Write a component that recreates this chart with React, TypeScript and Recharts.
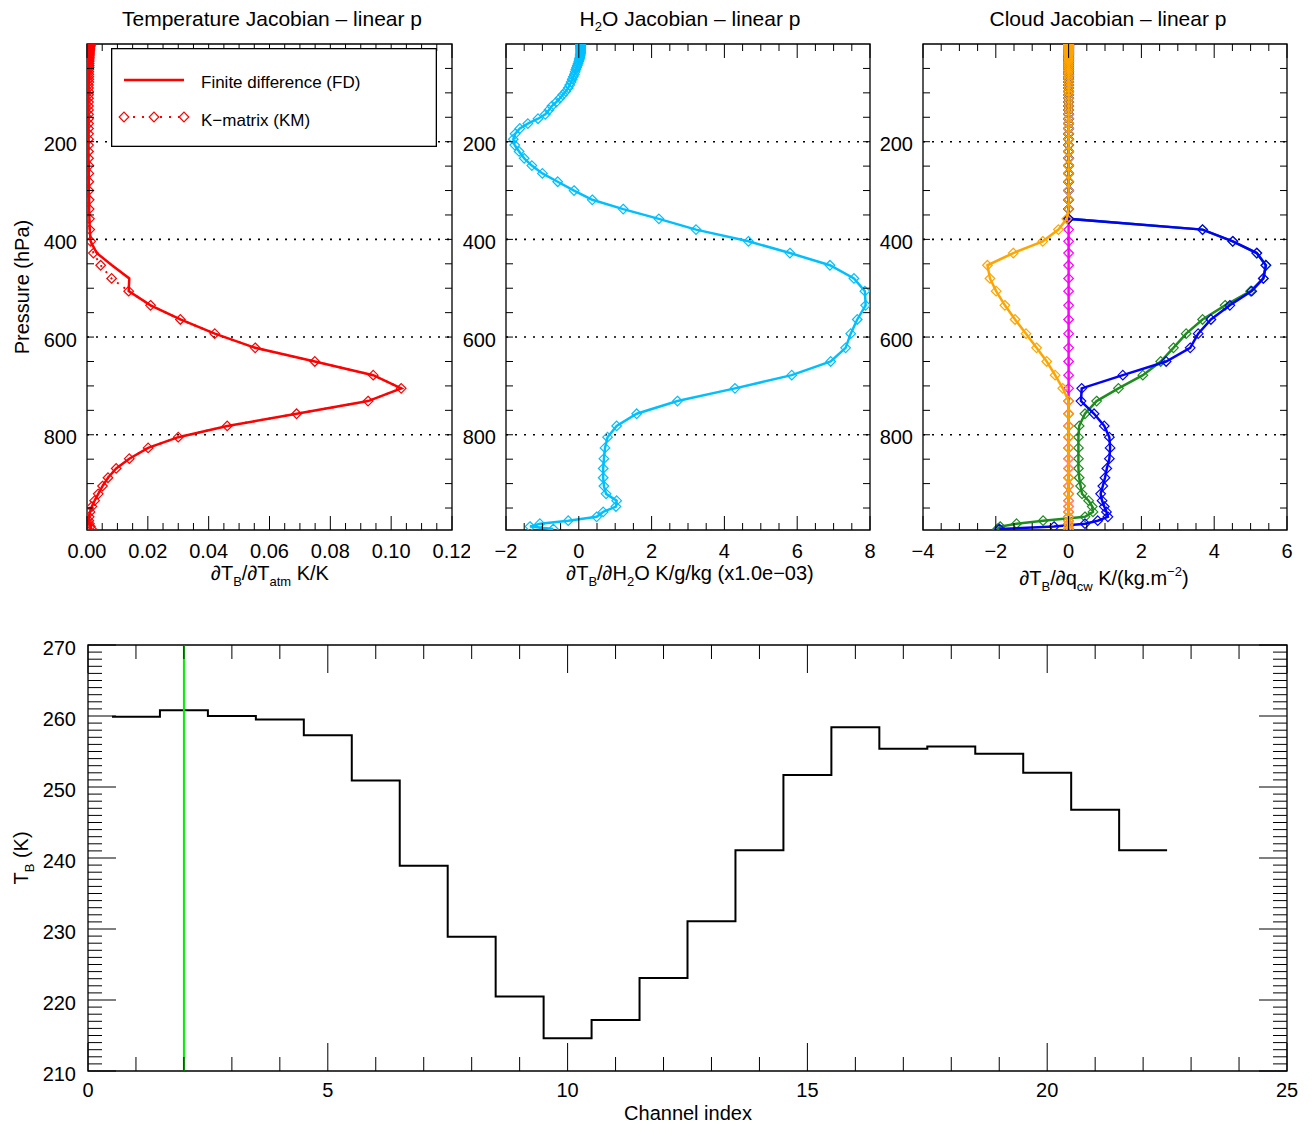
import React from 'react';
import {
  ScatterChart, Scatter, XAxis, YAxis, ReferenceLine, ReferenceArea, LineChart, Line,
} from 'recharts';

const FONT = '"Liberation Sans", Arial, Helvetica, sans-serif';

// ---------------- DATA ----------------
// Pressure levels (hPa), top of atmosphere to surface
const PRESSURE = [
  0.1, 0.3, 0.7, 1.3, 2, 3, 4, 5, 6.5, 8,
  9.5, 11, 13, 15, 17, 19, 21, 24, 27, 30,
  33, 36, 40, 44, 48, 52, 57, 62, 67, 72,
  78, 84, 90, 97, 104, 111, 119, 127, 135, 144,
  153, 163, 173, 184, 195, 207, 220, 234, 249, 265,
  282, 300, 319, 338, 358, 380, 404, 428, 453, 480,
  506, 535, 564, 593, 622, 650, 678, 705, 731, 757,
  782, 805, 827, 849, 869, 888, 905, 921, 935, 947,
  958, 968, 976, 982, 988, 993,
];

// Temperature Jacobian, K-matrix (K/K)
const T_KM = [
  0.0012, 0.0012, 0.0011, 0.0011, 0.0010, 0.0010, 0.0010, 0.0010, 0.0009, 0.0009,
  0.0009, 0.0009, 0.0009, 0.0008, 0.0008, 0.0008, 0.0008, 0.0008, 0.0008, 0.0007,
  0.0007, 0.0007, 0.0007, 0.0007, 0.0007, 0.0006, 0.0006, 0.0006, 0.0006, 0.0006,
  0.0006, 0.0005, 0.0005, 0.0005, 0.0005, 0.0005, 0.0005, 0.0005, 0.0005, 0.0005,
  0.0005, 0.0005, 0.0005, 0.0005, 0.0005, 0.0005, 0.0005, 0.0005, 0.0006, 0.0006,
  0.0006, 0.0006, 0.0007, 0.0007, 0.0008, 0.0009, 0.0012, 0.0021, 0.0045, 0.0081,
  0.0137, 0.0209, 0.0307, 0.0420, 0.0553, 0.0749, 0.0941, 0.1033, 0.0924, 0.0689,
  0.0461, 0.0300, 0.0201, 0.0139, 0.0096, 0.0069, 0.0051, 0.0037, 0.0025, 0.0016,
  0.0010, 0.0007, 0.0006, 0.0008, 0.0011, 0.0015,
];

// Temperature Jacobian, finite difference (K/K)
const T_FD = [
  0.0012, 0.0012, 0.0011, 0.0011, 0.0010, 0.0010, 0.0010, 0.0010, 0.0009, 0.0009,
  0.0009, 0.0009, 0.0009, 0.0008, 0.0008, 0.0008, 0.0008, 0.0008, 0.0008, 0.0007,
  0.0007, 0.0007, 0.0007, 0.0007, 0.0007, 0.0006, 0.0006, 0.0006, 0.0006, 0.0006,
  0.0006, 0.0005, 0.0005, 0.0005, 0.0005, 0.0005, 0.0005, 0.0005, 0.0005, 0.0005,
  0.0005, 0.0005, 0.0005, 0.0005, 0.0005, 0.0005, 0.0005, 0.0005, 0.0006, 0.0006,
  0.0006, 0.0006, 0.0007, 0.0007, 0.0008, 0.0009, 0.0012, 0.0032, 0.0082, 0.0139,
  0.0137, 0.0209, 0.0307, 0.0420, 0.0553, 0.0749, 0.0941, 0.1033, 0.0924, 0.0689,
  0.0461, 0.0300, 0.0201, 0.0139, 0.0096, 0.0069, 0.0051, 0.0037, 0.0025, 0.0016,
  0.0010, 0.0007, 0.0006, 0.0008, 0.0011, 0.0015,
];

// H2O Jacobian (K/g/kg, x1.0e-03)
const H2O = [
  0.05, 0.05, 0.05, 0.05, 0.05, 0.05, 0.05, 0.05, 0.05, 0.05,
  0.05, 0.05, 0.05, 0.05, 0.05, 0.05, 0.04, 0.04, 0.03, 0.02,
  0.01, 0.00, -0.02, -0.04, -0.06, -0.08, -0.10, -0.12, -0.15, -0.18,
  -0.21, -0.25, -0.29, -0.36, -0.44, -0.52, -0.62, -0.74, -0.82, -0.92,
  -1.12, -1.40, -1.62, -1.75, -1.80, -1.76, -1.64, -1.50, -1.29, -1.00,
  -0.58, -0.13, 0.37, 1.22, 2.20, 3.22, 4.66, 5.80, 6.90, 7.56,
  7.86, 7.88, 7.65, 7.47, 7.33, 6.92, 5.85, 4.29, 2.71, 1.59,
  1.04, 0.79, 0.72, 0.69, 0.67, 0.67, 0.69, 0.75, 1.04, 1.02,
  0.67, 0.49, -0.29, -1.07, -1.34, -0.70,
];

// Cloud Jacobians (K/(kg.m^-2))
const CLD_MAGENTA = [
  0, 0, 0, 0, 0, 0, 0, 0, 0, 0,
  0, 0, 0, 0, 0, 0, 0, 0, 0, 0,
  0, 0, 0, 0, 0, 0, 0, 0, 0, 0,
  0, 0, 0, 0, 0, 0, 0, 0, 0, 0,
  0, 0, 0, 0, 0, 0, 0, 0, 0, 0,
  0, 0, 0, 0, 0, 0, 0, 0, 0, 0,
  0, 0, 0, 0, 0, 0, 0, 0, 0, 0,
  0, 0, 0, 0, 0, 0, 0, 0, 0, 0,
  0, 0, 0, 0, 0, 0,
];

const CLD_GREEN = [
  0, 0, 0, 0, 0, 0, 0, 0, 0, 0,
  0, 0, 0, 0, 0, 0, 0, 0, 0, 0,
  0, 0, 0, 0, 0, 0, 0, 0, 0, 0,
  0, 0, 0, 0, 0, 0, 0, 0, 0, 0,
  0, 0, 0, 0, 0, 0, 0, 0, 0, 0,
  0, 0, 0, 0, 0, 3.68, 4.51, 5.17, 5.42, 5.35,
  5.00, 4.30, 3.68, 3.23, 2.88, 2.53, 2.04, 1.37, 0.77, 0.45,
  0.29, 0.27, 0.27, 0.27, 0.27, 0.29, 0.33, 0.37, 0.55, 0.65,
  0.67, 0.45, -0.70, -1.43, -1.88, -1.95,
];

const CLD_BLUE = [
  0, 0, 0, 0, 0, 0, 0, 0, 0, 0,
  0, 0, 0, 0, 0, 0, 0, 0, 0, 0,
  0, 0, 0, 0, 0, 0, 0, 0, 0, 0,
  0, 0, 0, 0, 0, 0, 0, 0, 0, 0,
  0, 0, 0, 0, 0, 0, 0, 0, 0, 0,
  0, 0, 0, 0, 0, 3.68, 4.51, 5.17, 5.42, 5.35,
  5.03, 4.43, 3.91, 3.56, 3.34, 2.68, 1.49, 0.36, 0.34, 0.70,
  0.98, 1.12, 1.14, 1.12, 1.05, 1.00, 0.94, 0.88, 0.92, 0.98,
  1.04, 1.08, 0.80, 0.45, -0.40, -1.90,
];

const CLD_ORANGE = [
  0, 0, 0, 0, 0, 0, 0, 0, 0, 0,
  0, 0, 0, 0, 0, 0, 0, 0, 0, 0,
  0, 0, 0, 0, 0, 0, 0, 0, 0, 0,
  0, 0, 0, 0, 0, 0, 0, 0, 0, 0,
  0, 0, 0, 0, 0, 0, 0, 0, 0, 0,
  0, 0, 0, 0, -0.05, -0.28, -0.71, -1.52, -2.23, -2.16,
  -1.99, -1.75, -1.47, -1.17, -0.88, -0.60, -0.37, -0.16, 0, 0,
  0, 0, 0, 0, 0, 0, 0, 0, 0, 0,
  0, 0, 0, 0, 0, 0,
];

// Brightness temperature per channel
const CHANNELS = [1, 2, 3, 4, 5, 6, 7, 8, 9, 10, 11, 12, 13, 14, 15, 16, 17, 18, 19, 20, 21, 22];
const TB = [
  259.9, 260.8, 260.0, 259.5, 257.3, 250.9, 238.9, 228.9, 220.5, 214.6, 217.2,
  223.1, 231.1, 241.1, 251.7, 258.4, 255.4, 255.7, 254.7, 252.0, 246.8, 241.1,
];
const SELECTED_CHANNEL = 2;

// Tick labels
const X1_LABELS = [0, 0.02, 0.04, 0.06, 0.08, 0.1, 0.12];
const X2_LABELS = [-2, 0, 2, 4, 6, 8];
const X3_LABELS = [-4, -2, 0, 2, 4, 6];
const P_GRID = [0, 200, 400, 600, 800, 1000];
const P_LABELS = [200, 400, 600, 800];
const P_DOMAIN = [0, 995];
const CH_LABELS = [0, 5, 10, 15, 20, 25];
const TB_LABELS = [210, 220, 230, 240, 250, 260, 270];

const LEGEND_ITEMS = ['Finite difference (FD)', 'K\u2212matrix (KM)'];

// ---------------- HELPERS ----------------
function subdivide(major: number[], n: number): number[] {
  const out: number[] = [];
  for (let i = 0; i < major.length - 1; i++) {
    const a = major[i];
    const b = major[i + 1];
    for (let k = 0; k < n; k++) out.push(+(a + ((b - a) * k) / n).toFixed(6));
  }
  out.push(major[major.length - 1]);
  return out;
}

const X1_TICKS = subdivide(X1_LABELS, 4);
const X2_TICKS = subdivide(X2_LABELS, 4);
const X3_TICKS = subdivide(X3_LABELS, 4);
const P_TICKS = subdivide(P_GRID, 4).filter((p) => p > P_DOMAIN[0] && p < P_DOMAIN[1]);
const CH_TICKS = subdivide(CH_LABELS, 5);
const TB_TICKS = subdivide(TB_LABELS, 10);

const profile = (vals: number[]) => PRESSURE.map((p, i) => ({ p, x: vals[i] }));

const STEP_DATA = [
  ...CHANNELS.map((c, i) => ({ x: c - 0.5, t: TB[i] })),
  { x: CHANNELS[CHANNELS.length - 1] + 0.5, t: TB[TB.length - 1] },
];

const isIn = (arr: number[], v: number) => arr.some((m) => Math.abs(m - v) < 1e-9);
const minusFmt = (v: number) => (v < 0 ? '\u2212' + Math.abs(v) : String(v));

const TICK_FS = 20;

function makeXTick(labels: number[], majorLen: number, minorLen: number, plotH: number, fmt: (v: number) => string, dy: number) {
  return (props: any) => {
    const { x, y, payload } = props;
    const v = payload.value;
    const major = isIn(labels, v);
    const len = major ? majorLen : minorLen;
    return (
      <g>
        <line x1={x} x2={x} y1={y} y2={y - len} stroke="#000" strokeWidth={1} />
        <line x1={x} x2={x} y1={y - plotH} y2={y - plotH + len} stroke="#000" strokeWidth={1} />
        {major && (
          <text x={x} y={y + dy} textAnchor="middle" fontSize={TICK_FS} fontFamily={FONT} fill="#000">
            {fmt(v)}
          </text>
        )}
      </g>
    );
  };
}

function makeYTick(labels: number[], majorLen: number, minorLen: number, plotW: number, dx: number, dy: number) {
  return (props: any) => {
    const { x, y, payload } = props;
    const v = payload.value;
    const major = isIn(labels, v);
    const len = major ? majorLen : minorLen;
    return (
      <g>
        <line x1={x} x2={x + len} y1={y} y2={y} stroke="#000" strokeWidth={1} />
        <line x1={x + plotW} x2={x + plotW - len} y1={y} y2={y} stroke="#000" strokeWidth={1} />
        {major && (
          <text x={x - dx} y={y + dy} textAnchor="end" fontSize={TICK_FS} fontFamily={FONT} fill="#000">
            {String(v)}
          </text>
        )}
      </g>
    );
  };
}

const diamond = (color: string) => (props: any) => {
  const { cx, cy } = props;
  if (cx == null || cy == null) return <g />;
  const r = 4.8;
  return (
    <path
      d={`M${cx},${cy - r}L${cx + r},${cy}L${cx},${cy + r}L${cx - r},${cy}Z`}
      fill="none"
      stroke={color}
      strokeWidth={1.2}
    />
  );
};
const noShape = () => <g />;

// ---------------- PANELS ----------------
type PanelProps = {
  left: number;
  width: number;
  marginLeft: number;
  marginRight: number;
  domain: number[];
  xTicks: number[];
  xLabels: number[];
  fmt: (v: number) => string;
  children: React.ReactNode;
};

const TOP_H = 600;
const PLOT_TOP = 44;
const PLOT_BOTTOM = 530;

function ProfilePanel({ left, width, marginLeft, marginRight, domain, xTicks, xLabels, fmt, children }: PanelProps) {
  const plotW = width - marginLeft - 1 - marginRight;
  const plotH = PLOT_BOTTOM - PLOT_TOP;
  return (
    <div style={{ position: 'absolute', left, top: 0, width, height: TOP_H }}>
      <ScatterChart
        width={width}
        height={TOP_H}
        margin={{ top: PLOT_TOP, right: marginRight, bottom: TOP_H - PLOT_BOTTOM - 1, left: marginLeft }}
      >
        <XAxis
          type="number"
          dataKey="x"
          domain={domain}
          allowDataOverflow
          ticks={xTicks}
          interval={0}
          tickSize={0}
          tickMargin={0}
          axisLine={false}
          tickLine={false}
          height={1}
          tick={makeXTick(xLabels, 14, 7, plotH, fmt, 28)}
        />
        <YAxis
          type="number"
          dataKey="p"
          domain={P_DOMAIN}
          reversed
          allowDataOverflow
          ticks={P_TICKS}
          interval={0}
          tickSize={0}
          tickMargin={0}
          axisLine={false}
          tickLine={false}
          width={1}
          tick={makeYTick(P_LABELS, 7, 7, plotW, 10, 9.5)}
        />
        {P_LABELS.map((p) => (
          <ReferenceLine key={p} y={p} stroke="#000" strokeWidth={1.6} strokeDasharray="2 7" />
        ))}
        {children}
        <ReferenceArea
          x1={domain[0]}
          x2={domain[1]}
          y1={P_DOMAIN[0]}
          y2={P_DOMAIN[1]}
          fill="none"
          stroke="#000"
          strokeWidth={1.3}
        />
      </ScatterChart>
    </div>
  );
}

const profileScatter = (key: string, vals: number[], color: string, withMarkers: boolean, dashed = false) => (
  <Scatter
    key={key}
    data={profile(vals)}
    fill={color}
    line={{ stroke: color, strokeWidth: dashed ? 2 : 2.5, strokeDasharray: dashed ? '2 6' : undefined }}
    lineType="joint"
    shape={withMarkers ? diamond(color) : noShape}
    isAnimationActive={false}
  />
);

function Overlay() {
  return (
    <svg
      width={1314}
      height={1127}
      style={{ position: 'absolute', left: 0, top: 0, pointerEvents: 'none' }}
      fontFamily={FONT}
      fill="#000"
    >
      <text x={272} y={26} textAnchor="middle" fontSize={21}>Temperature Jacobian – linear p</text>
      <text x={690} y={26} textAnchor="middle" fontSize={21}>
        H<tspan dy={5} fontSize={13}>2</tspan>
        <tspan dy={-5}>O Jacobian – linear p</tspan>
      </text>
      <text x={1108} y={26} textAnchor="middle" fontSize={21}>Cloud Jacobian – linear p</text>

      <text x={270} y={580} textAnchor="middle" fontSize={20}>
        ∂T<tspan dy={6} fontSize={13}>B</tspan>
        <tspan dy={-6}>/∂T</tspan>
        <tspan dy={6} fontSize={13}>atm</tspan>
        <tspan dy={-6}> K/K</tspan>
      </text>
      <text x={690} y={580} textAnchor="middle" fontSize={20}>
        ∂T<tspan dy={6} fontSize={13}>B</tspan>
        <tspan dy={-6}>/∂H</tspan>
        <tspan dy={6} fontSize={13}>2</tspan>
        <tspan dy={-6}>O K/g/kg (x1.0e−03)</tspan>
      </text>
      <text x={1104} y={585} textAnchor="middle" fontSize={20}>
        ∂T<tspan dy={6} fontSize={13}>B</tspan>
        <tspan dy={-6}>/∂q</tspan>
        <tspan dy={6} fontSize={13}>cw</tspan>
        <tspan dy={-6}> K/(kg.m</tspan>
        <tspan dy={-9} fontSize={13}>−2</tspan>
        <tspan dy={9}>)</tspan>
      </text>

      <text transform="translate(29,287) rotate(-90)" textAnchor="middle" fontSize={20}>Pressure (hPa)</text>
      <text transform="translate(28,858) rotate(-90)" textAnchor="middle" fontSize={20}>
        T<tspan dy={6} fontSize={13}>B</tspan>
        <tspan dy={-6}> (K)</tspan>
      </text>
      <text x={688} y={1120} textAnchor="middle" fontSize={20}>Channel index</text>
    </svg>
  );
}

function LegendBox() {
  return (
    <div style={{ position: 'absolute', left: 111, top: 48, width: 326, height: 99 }}>
      <svg width={326} height={99} fontFamily={FONT}>
        <rect x={0.65} y={0.65} width={324.7} height={97.7} fill="#fff" stroke="#000" strokeWidth={1.3} />
        <line x1={13} x2={73} y1={32} y2={32} stroke="#ff0000" strokeWidth={2.5} />
        <text x={90} y={40} fontSize={17} fill="#000">{LEGEND_ITEMS[0]}</text>
        <line x1={13} x2={73} y1={69} y2={69} stroke="#ff0000" strokeWidth={2} strokeDasharray="2 7" />
        {[13, 43, 73].map((cx) => (
          <path
            key={cx}
            d={`M${cx},${69 - 4.8}L${cx + 4.8},${69}L${cx},${69 + 4.8}L${cx - 4.8},${69}Z`}
            fill="#fff"
            stroke="#ff0000"
            strokeWidth={1.2}
          />
        ))}
        <text x={90} y={78} fontSize={17} fill="#000">{LEGEND_ITEMS[1]}</text>
      </svg>
    </div>
  );
}

function BottomPanel() {
  const width = 1314;
  const height = 527;
  const margin = { top: 45, right: 27, bottom: 55, left: 87 };
  const plotW = width - margin.left - 1 - margin.right;
  const plotH = height - margin.top - margin.bottom - 1;
  return (
    <div style={{ position: 'absolute', left: 0, top: 600, width, height }}>
      <LineChart width={width} height={height} data={STEP_DATA} margin={margin}>
        <XAxis
          type="number"
          dataKey="x"
          domain={[0, 25]}
          allowDataOverflow
          ticks={CH_TICKS}
          interval={0}
          tickSize={0}
          tickMargin={0}
          axisLine={false}
          tickLine={false}
          height={1}
          tick={makeXTick(CH_LABELS, 28, 14, plotH, (v) => String(v), 26)}
        />
        <YAxis
          type="number"
          domain={[210, 270]}
          allowDataOverflow
          ticks={TB_TICKS}
          interval={0}
          tickSize={0}
          tickMargin={0}
          axisLine={false}
          tickLine={false}
          width={1}
          tick={makeYTick(TB_LABELS, 28, 14, plotW, 12, 10)}
        />
        <Line type="stepAfter" dataKey="t" stroke="#000" strokeWidth={2} dot={false} isAnimationActive={false} />
        <ReferenceLine x={SELECTED_CHANNEL} stroke="#00ee00" strokeWidth={2} />
        <ReferenceArea x1={0} x2={25} y1={210} y2={270} fill="none" stroke="#000" strokeWidth={1.3} />
      </LineChart>
    </div>
  );
}

export default function App() {
  return (
    <div
      style={{
        position: 'absolute',
        left: 0,
        top: 0,
        width: 1314,
        height: 1127,
        background: '#fff',
        fontFamily: FONT,
        overflow: 'hidden',
      }}
    >
      <ProfilePanel
        left={0}
        width={470}
        marginLeft={86}
        marginRight={18}
        domain={[0, 0.12]}
        xTicks={X1_TICKS}
        xLabels={X1_LABELS}
        fmt={(v) => v.toFixed(2)}
      >
        {profileScatter('fd', T_FD, '#ff0000', false)}
        {profileScatter('km', T_KM, '#ff0000', true, true)}
      </ProfilePanel>

      <ProfilePanel
        left={455}
        width={430}
        marginLeft={50}
        marginRight={15}
        domain={[-2, 8]}
        xTicks={X2_TICKS}
        xLabels={X2_LABELS}
        fmt={minusFmt}
      >
        {profileScatter('h2o', H2O, '#00bfff', true)}
      </ProfilePanel>

      <ProfilePanel
        left={875}
        width={439}
        marginLeft={47}
        marginRight={27}
        domain={[-4, 6]}
        xTicks={X3_TICKS}
        xLabels={X3_LABELS}
        fmt={minusFmt}
      >
        {profileScatter('mag', CLD_MAGENTA, '#ff00ff', true)}
        {profileScatter('grn', CLD_GREEN, '#1e8c1e', true)}
        {profileScatter('blu', CLD_BLUE, '#0000ff', true)}
        {profileScatter('org', CLD_ORANGE, '#ffa500', true)}
      </ProfilePanel>

      <BottomPanel />
      <Overlay />
      <LegendBox />
    </div>
  );
}
